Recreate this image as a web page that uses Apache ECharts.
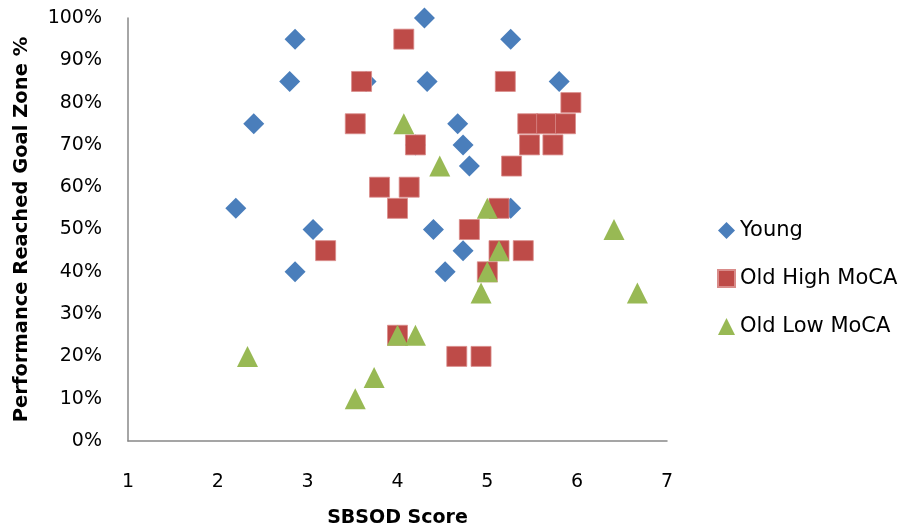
<!DOCTYPE html>
<html>
<head>
<meta charset="utf-8">
<script src="https://cdn.jsdelivr.net/npm/echarts@6/dist/echarts.min.js"></script>
<style>html,body{margin:0;padding:0;background:#fff}#c{width:909px;height:528px}</style>
</head>
<body>
<div id="c"></div>
<script>
const seriesNames = ['Young', 'Old High MoCA', 'Old Low MoCA'];
const youngX = [2.86, 2.80, 2.40, 2.20, 3.06, 2.86, 3.65, 4.30, 5.26, 4.33, 5.80, 4.67, 4.73, 4.80, 4.20, 5.26, 4.40, 4.73, 4.53];
const youngY = [0.95, 0.85, 0.75, 0.55, 0.50, 0.40, 0.85, 1.00, 0.95, 0.85, 0.85, 0.75, 0.70, 0.65, 0.70, 0.55, 0.50, 0.45, 0.40];
const highX = [4.07, 3.60, 3.53, 3.80, 4.00, 4.13, 5.20, 5.93, 5.45, 5.66, 5.87, 5.47, 5.73, 4.20, 5.27, 5.13, 4.80, 5.13, 5.40, 5.00, 4.00, 4.66, 4.93, 3.20];
const highY = [0.95, 0.85, 0.75, 0.60, 0.55, 0.60, 0.85, 0.80, 0.75, 0.75, 0.75, 0.70, 0.70, 0.70, 0.65, 0.55, 0.50, 0.45, 0.45, 0.40, 0.25, 0.20, 0.20, 0.45];
const lowX = [4.07, 4.47, 5.00, 6.41, 5.13, 5.00, 4.93, 6.67, 4.00, 4.20, 2.33, 3.74, 3.53];
const lowY = [0.75, 0.65, 0.55, 0.50, 0.45, 0.40, 0.35, 0.35, 0.25, 0.25, 0.20, 0.15, 0.10];
const xTitle = 'SBSOD Score';
const yTitle = 'Performance Reached Goal Zone %';

const zip = (xs, ys) => xs.map((x, i) => [x, ys[i]]);
const font = 'DejaVu Sans';
const chart = echarts.init(document.getElementById('c'));
chart.setOption({
  animation: false,
  backgroundColor: '#fff',
  grid: { left: 128, right: 242, top: 18, bottom: 87, containLabel: false, outerBoundsMode: 'none' },
  legend: {
    orient: 'vertical', left: 712, top: 215, itemGap: 27, itemWidth: 17, itemHeight: 17,
    textStyle: { fontFamily: font, fontSize: 21, color: '#000' },
    data: seriesNames
  },
  xAxis: {
    type: 'value', min: 1, max: 7, interval: 1,
    name: xTitle, nameLocation: 'middle', nameGap: 68,
    nameTextStyle: { fontFamily: font, fontSize: 19, fontWeight: 'bold', color: '#000' },
    axisLine: { show: true, lineStyle: { color: '#888', width: 1.5 } },
    axisTick: { show: false },
    splitLine: { show: false },
    axisLabel: { fontFamily: font, fontSize: 19, color: '#000', margin: 32 }
  },
  yAxis: {
    type: 'value', min: 0, max: 1, interval: 0.1,
    name: yTitle, nameLocation: 'middle', nameGap: 96, nameRotate: 90,
    nameTextStyle: { fontFamily: font, fontSize: 19.5, fontWeight: 'bold', color: '#000' },
    axisLine: { show: true, lineStyle: { color: '#888', width: 1.5 } },
    axisTick: { show: false },
    splitLine: { show: false },
    axisLabel: { fontFamily: font, fontSize: 19, color: '#000', margin: 26,
      formatter: v => Math.round(v * 100) + '%' }
  },
  series: [
    { name: seriesNames[0], type: 'scatter', symbol: 'diamond', symbolSize: 21,
      itemStyle: { color: '#4A7EBB', opacity: 1 }, data: zip(youngX, youngY), z: 2 },
    { name: seriesNames[1], type: 'scatter', symbol: 'rect', symbolSize: 20,
      itemStyle: { color: '#BE4B48', borderColor: '#D98C8A', borderWidth: 0.8, opacity: 1 }, data: zip(highX, highY), z: 3 },
    { name: seriesNames[2], type: 'scatter', symbol: 'triangle', symbolSize: 21,
      itemStyle: { color: '#98B954', opacity: 1 }, data: zip(lowX, lowY), z: 4 }
  ]
});
</script>
</body>
</html>
